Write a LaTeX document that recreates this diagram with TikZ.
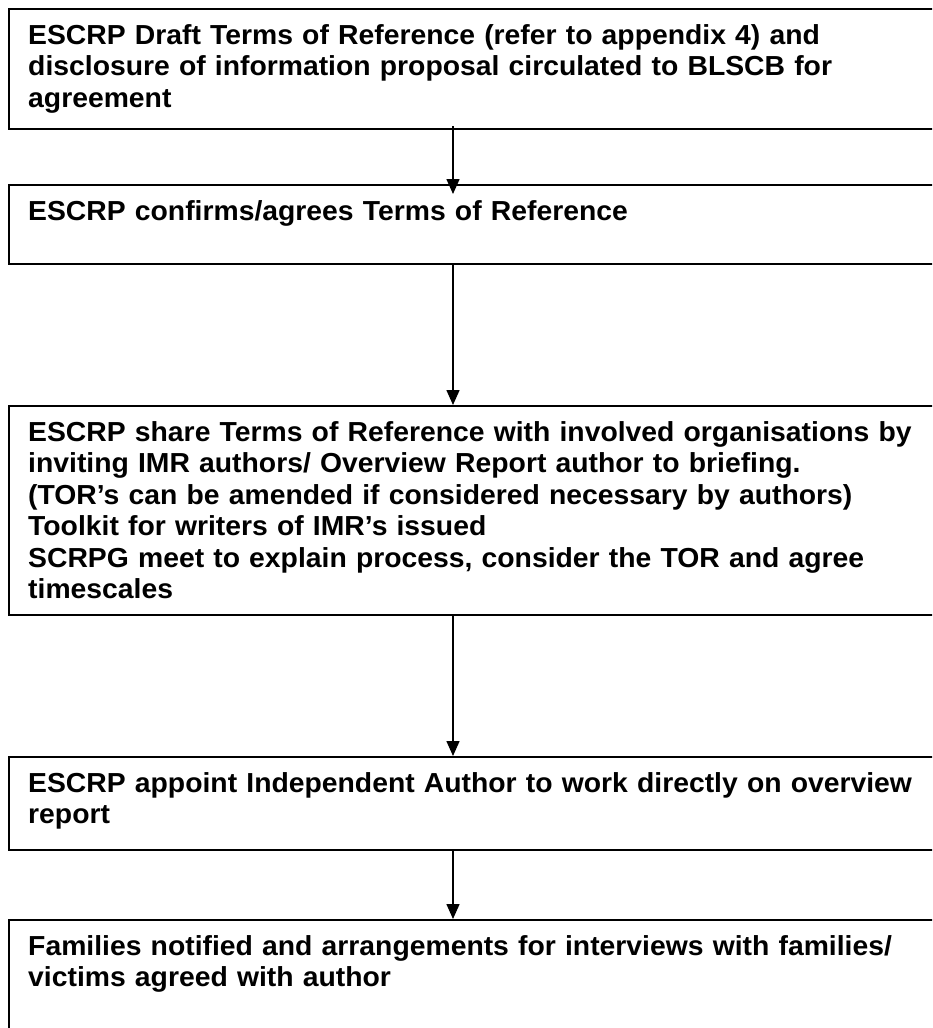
\documentclass[tikz,border=0pt]{standalone}
\usepackage{fontspec}
\setmainfont{Liberation Sans}[FakeStretch=1.03]
\usetikzlibrary{arrows.meta}
\begin{document}
\begin{tikzpicture}[x=1pt,y=-1pt,
  stepbox/.style={draw=black, line width=1.8pt, anchor=north west, inner sep=0pt,
                  minimum width=940pt},
  steptext/.style={anchor=north west, inner sep=0pt, align=left, text width=905pt,
                   font=\fontsize{27.5}{31.5}\selectfont\bfseries},
  flow/.style={draw=black, line width=1.5pt, -{Triangle[length=15pt,width=13pt]}}
]
\clip (0,0) rectangle (932,1028);
\fill[white] (0,0) rectangle (932,1028);

% the five process steps
\node[stepbox, minimum height=120pt] (b1) at (8,8) {};
\node[stepbox, minimum height=79pt]  (b2) at (8,184) {};
\node[stepbox, minimum height=209pt] (b3) at (8,405) {};
\node[stepbox, minimum height=93pt]  (b4) at (8,756) {};
\node[stepbox, minimum height=125pt] (b5) at (8,919) {};

\node[steptext] (t1) at ([xshift=20pt,yshift=-14pt]b1.north west)
  {\strut ESCRP Draft Terms of Reference (refer to appendix 4) and\\
   disclosure of information proposal circulated to BLSCB for\\
   agreement};
\node[steptext] (t2) at ([xshift=20pt,yshift=-14pt]b2.north west)
  {\strut ESCRP confirms/agrees Terms of Reference};
\node[steptext] (t3) at ([xshift=20pt,yshift=-14pt]b3.north west)
  {\strut ESCRP share Terms of Reference with involved organisations by\\
   inviting IMR authors/ Overview Report author to briefing.\\
   (TOR’s can be amended if considered necessary by authors)\\
   Toolkit for writers of IMR’s issued\\
   SCRPG meet to explain process, consider the TOR and agree\\
   timescales};
\node[steptext] (t4) at ([xshift=20pt,yshift=-14pt]b4.north west)
  {\strut ESCRP appoint Independent Author to work directly on overview\\
   report};
\node[steptext] (t5) at ([xshift=20pt,yshift=-14pt]b5.north west)
  {\strut Families notified and arrangements for interviews with families/\\
   victims agreed with author};

% connectors run down a common column
\coordinate (col) at (453,0);
\draw[flow] ([yshift=4pt]b1.south -| col) -- ([yshift=-10pt]b2.north -| col);
\draw[flow] (b2.south -| col) -- (b3.north -| col);
\draw[flow] (b3.south -| col) -- (b4.north -| col);
\draw[flow] (b4.south -| col) -- (b5.north -| col);
\end{tikzpicture}
\end{document}
